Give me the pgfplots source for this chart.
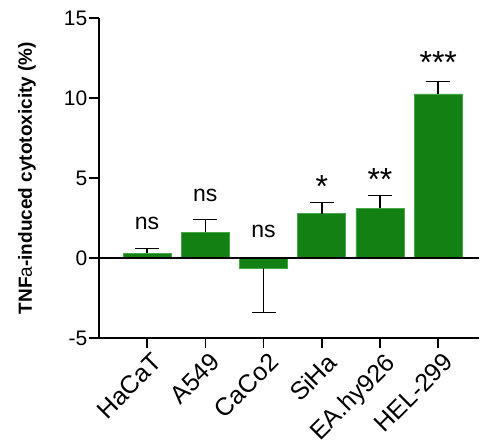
\documentclass[border=0pt]{standalone}
\usepackage{pgfplots}
\pgfplotsset{compat=1.18}
\usepackage{fontspec}
\setmainfont{Liberation Sans}
\definecolor{barg}{RGB}{18,128,18}
\definecolor{bare}{RGB}{70,165,70}
\begin{document}
\begin{tikzpicture}
\begin{axis}[
  scale only axis, width=380pt, height=320pt,
  xmin=-0.825, xmax=5.7, ymin=-5, ymax=15,
  axis x line*=bottom, axis y line*=left,
  axis line style={line width=1.5pt,-},
  ytick={-5,0,5,10,15}, yticklabels={-5,0,5,10,15},
  xtick={0,1,2,3,4,5},
  xticklabels={HaCaT,A549,CaCo2,SiHa,EA.hy926,HEL-299},
  xticklabel style={xshift=4pt, yshift=-2pt, rotate=45, anchor=north east, font=\fontsize{25}{25}\selectfont, inner sep=1pt},
  yticklabel style={font=\fontsize{21}{21}\selectfont, inner sep=1.5pt},
  tick align=outside, major tick length=10pt,
  every tick/.style={line width=1.5pt,black},
  ylabel={\textbf{TNF}a\textbf{-induced cytotoxicity (\%)}},
  ylabel style={font=\fontsize{19}{19}\selectfont, at={(axis description cs:-0.1895,0.5)}, anchor=center},
  clip=false,
]
\addplot[ybar, bar width=48pt, fill=barg, draw=bare, line width=0.8pt,
  error bars/.cd, y dir=plus, y explicit,
  error bar style={line width=1.5pt, black},
  error mark options={rotate=90, mark size=12pt, line width=1.5pt, black}]
  coordinates {
  (0,0.29) +- (0,0.31)
  (1,1.60) +- (0,0.80)
  (3,2.77) +- (0,0.71)
  (4,3.12) +- (0,0.80)
  (5,10.25) +- (0,0.79)
  };
\addplot[ybar, bar width=48pt, fill=barg, draw=bare, line width=0.8pt,
  error bars/.cd, y dir=minus, y explicit,
  error bar style={line width=1.5pt, black},
  error mark options={rotate=90, mark size=12pt, line width=1.5pt, black}]
  coordinates {
  (2,-0.65) +- (0,2.77)
  };
\draw[line width=1.5pt] (rel axis cs:0,0.25) -- (rel axis cs:1,0.25);
\begin{scope}[every node/.style={font=\fontsize{23}{23}\selectfont, anchor=base}]
\node at (axis cs:0,1.81) {ns};
\node at (axis cs:1,3.52) {ns};
\node at (axis cs:2,1.29) {ns};
\end{scope}
\begin{scope}[every node/.style={font=\fontsize{32}{32}\selectfont, anchor=base}]
\node at (axis cs:3,3.80) {*};
\node at (axis cs:4,4.20) {**};
\node at (axis cs:5,11.50) {***};
\end{scope}
\path ([shift={(-99pt,-103pt)}]rel axis cs:0,0) rectangle ([shift={(1pt,18pt)}]rel axis cs:1,1);
\end{axis}
\end{tikzpicture}
\end{document}
